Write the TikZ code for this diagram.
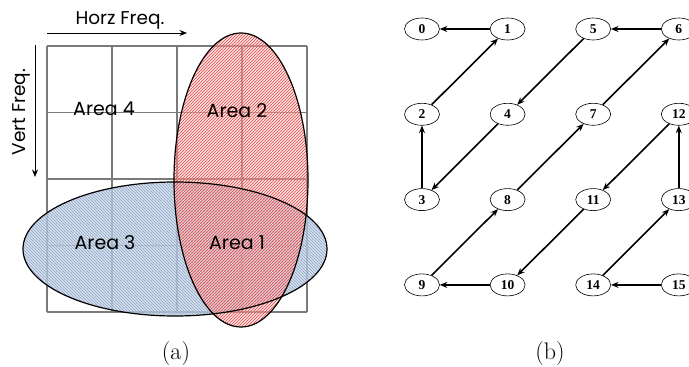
\documentclass[tikz,border=0pt]{standalone}
\usepackage{fontspec}
\newfontfamily\gothic{Poppins}
\newfontfamily\numfont{Liberation Serif}
\usepackage{tikz}
\usetikzlibrary{arrows.meta,positioning,shapes.geometric,patterns}
\definecolor{bluefill}{HTML}{C9D6E8}
\definecolor{bluehatch}{HTML}{8FA6C8}
\definecolor{redfill}{HTML}{F8C4C8}
\definecolor{redhatch}{HTML}{E8453F}
\definecolor{gridgray}{HTML}{7A7A7A}

\begin{document}
\begin{tikzpicture}[x=1pt,y=1pt,
  num/.style={draw,ellipse,minimum width=35pt,minimum height=22pt,inner sep=0pt,
    line width=0.6pt,font=\numfont\bfseries\fontsize{13.5}{13.5}\selectfont},
  area/.style={font=\gothic\fontsize{19}{19}\selectfont},
  freq/.style={font=\gothic\fontsize{18.5}{18.5}\selectfont},
  subcap/.style={font=\fontsize{24}{24}\selectfont},
  link/.style={->,line width=1.6pt},
  node distance=62.7pt and 50pt,>={Stealth[length=7.5pt,width=6pt]}]
\useasboundingbox (0,0) rectangle (689,367);

% (a) frequency areas
\draw[gridgray,line width=1.5pt,shift={(47,55)}] (0,0) grid[xstep=65,ystep=66.5] (260,266);
\fill[bluefill,fill opacity=0.75] (175,118) ellipse [x radius=152,y radius=67];
\fill[pattern=north west lines,pattern color=bluehatch] (175,118) ellipse [x radius=152,y radius=67];
\fill[redfill,fill opacity=0.5] (241,187) ellipse [x radius=67,y radius=147];
\fill[pattern=north east lines,pattern color=redhatch] (241,187) ellipse [x radius=67,y radius=147];
\draw[line width=1.2pt] (175,118) ellipse [x radius=152,y radius=67];
\draw[line width=1.2pt] (241,187) ellipse [x radius=67,y radius=147];

\node[area] (a4) at (104,258) {Area 4};
\node[area] (a2) at (237,256) {Area 2};
\node[area] (a3) at (105,124) {Area 3};
\node[area] (a1) at (237,124) {Area 1};

\coordinate (hs) at (47,334);
\coordinate (he) at (187,334);
\draw[->,line width=0.9pt] (hs) -- (he);
\node[freq] (horz) at (120,347) {Horz Freq.};
\coordinate (vs) at (35,322);
\coordinate (ve) at (35,190);
\draw[->,line width=0.9pt] (vs) -- (ve);
\node[freq,rotate=90] (vert) at (21,255) {Vert Freq.};

\node[subcap] (capa) at (176,13) {(a)};

% (b) scan order
\node[num] (n0) at (422,338) {0};
\node[num,right=of n0] (n1) {1};
\node[num,right=of n1] (n5) {5};
\node[num,right=of n5] (n6) {6};
\node[num,below=of n0] (n2) {2};
\node[num,right=of n2] (n4) {4};
\node[num,right=of n4] (n7) {7};
\node[num,right=of n7] (n12) {12};
\node[num,below=of n2] (n3) {3};
\node[num,right=of n3] (n8) {8};
\node[num,right=of n8] (n11) {11};
\node[num,right=of n11] (n13) {13};
\node[num,below=of n3] (n9) {9};
\node[num,right=of n9] (n10) {10};
\node[num,right=of n10] (n14) {14};
\node[num,right=of n14] (n15) {15};
\draw[link] (n1) -- (n0);
\draw[link] (n2) -- (n1);
\draw[link] (n3) -- (n2);
\draw[link] (n4) -- (n3);
\draw[link] (n5) -- (n4);
\draw[link] (n6) -- (n5);
\draw[link] (n7) -- (n6);
\draw[link] (n8) -- (n7);
\draw[link] (n9) -- (n8);
\draw[link] (n10) -- (n9);
\draw[link] (n11) -- (n10);
\draw[link] (n12) -- (n11);
\draw[link] (n13) -- (n12);
\draw[link] (n14) -- (n13);
\draw[link] (n15) -- (n14);

\node[subcap] (capb) at (550,13) {(b)};
\end{tikzpicture}
\end{document}
